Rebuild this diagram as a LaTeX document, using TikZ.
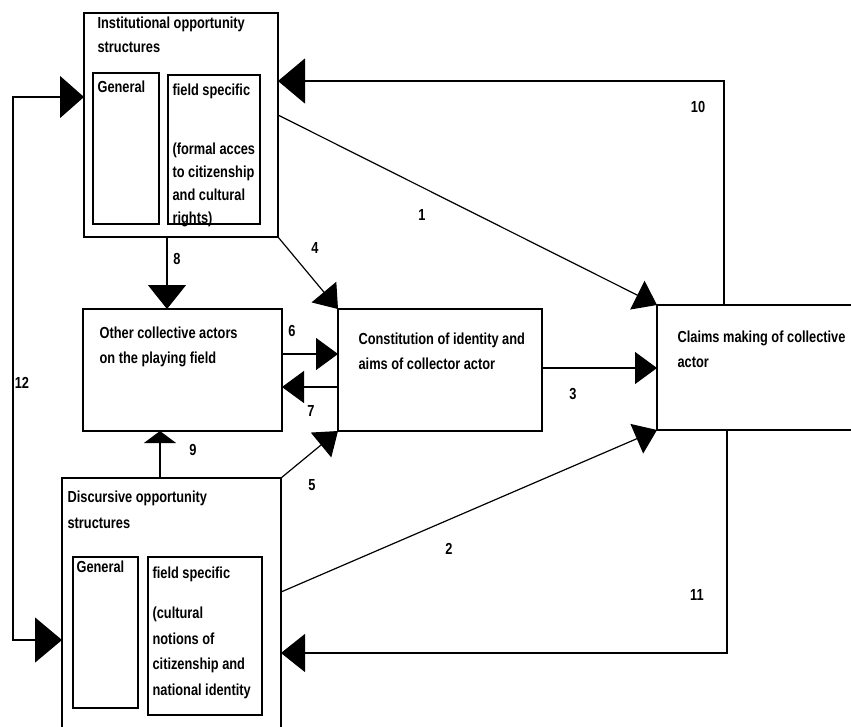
\documentclass[tikz,border=0pt]{standalone}
\usepackage{fontspec}
\setmainfont{Liberation Sans}[FakeStretch=0.8]
\usetikzlibrary{arrows.meta}
\begin{document}
\begin{tikzpicture}[x=1pt,y=-1pt, line width=1.2pt,
  box/.style={draw, line width=1.3pt, inner sep=0pt, outer sep=0pt, anchor=north west},
  txt/.style={inner sep=0pt, anchor=north west, align=left, font=\fontsize{16}{24}\selectfont\bfseries},
  num/.style={inner sep=0pt, font=\fontsize{16}{16}\selectfont\bfseries},
  tipL/.style={-{Triangle[length=27pt,width=45pt]}},
  tipLL/.style={{Triangle[length=27pt,width=45pt]}-{Triangle[length=24pt,width=42pt]}},
  tipE/.style={-{Triangle[length=24pt,width=38pt]}},
  tipM/.style={-{Triangle[length=22pt,width=32pt]}},
  tipS/.style={-{Triangle[length=12pt,width=32pt]}}
]
\clip (0,0) rectangle (851,726);
\fill[white] (0,0) rectangle (851,726);

% boxes
\node[box, minimum width=194pt, minimum height=224pt] (ios) at (84,13) {};
\node[box, minimum width=66pt, minimum height=151pt] (iosG) at (93,73) {};
\node[box, minimum width=92pt, minimum height=149pt] (iosF) at (168,75) {};
\node[box, minimum width=199pt, minimum height=122pt] (oca) at (83,309) {};
\node[box, minimum width=204pt, minimum height=122pt] (con) at (338,309) {};
\node[box, minimum width=220pt, minimum height=125pt] (claims) at (657,305) {};
\node[box, minimum width=219pt, minimum height=270pt] (dos) at (62,478) {};
\node[box, minimum width=65pt, minimum height=151pt] (dosG) at (73,557) {};
\node[box, minimum width=114pt, minimum height=158pt] (dosF) at (148,557) {};

% texts
\node[txt] (tIos) at (97,16) {Institutional opportunity\\structures};
\node[txt] (tIosG) at (97,80) {General};
\node[txt, font=\fontsize{16}{23}\selectfont\bfseries] (tIosF) at (172,83)
  {field specific\\[36pt](formal acces\\to citizenship\\and cultural\\rights)};
\node[txt, font=\fontsize{16}{25}\selectfont\bfseries] (tOca) at (99,326) {Other collective actors\\on the playing field};
\node[txt, font=\fontsize{16}{25}\selectfont\bfseries] (tCon) at (358,332) {Constitution of identity and\\aims of collector actor};
\node[txt, font=\fontsize{16}{25}\selectfont\bfseries] (tCla) at (677,330) {Claims making of collective\\actor};
\node[txt, font=\fontsize{16}{26}\selectfont\bfseries] (tDos) at (67,490) {Discursive opportunity\\structures};
\node[txt] (tDosG) at (76,560) {General};
\node[txt, font=\fontsize{16}{25.5}\selectfont\bfseries] (tDosF) at (152,566)
  {field specific\\[15pt](cultural\\notions of\\citizenship and\\national identity};

% bend coordinates
\coordinate (b12) at (13,383);
\coordinate (b10) at (724,81);
\coordinate (b11) at (727,653);

% connectors
\draw[tipLL] (dos.west |- 0,640) -| (b12) |- (ios.west |- 0,97);
\draw[tipL] (claims.north -| b10) |- (ios.east |- b10);
\draw[tipE] (claims.south -| b11) |- (dos.east |- b11);
\draw[tipM] (ios.east |- 0,115) -- (claims.north west);
\draw[tipM] (dos.east |- 0,592) -- (claims.south west);
\draw[tipM] (con.east |- 0,368) -- (claims.west |- 0,368);
\draw[tipM] (ios.south east) -- (con.north west);
\draw[tipM] (dos.north east) -- (con.south west);
\draw[tipM] (oca.east |- 0,354) -- (con.west |- 0,354);
\draw[tipM] (con.west |- 0,387) -- (oca.east |- 0,387);
\draw[tipE] (ios.south -| 167,0) -- (oca.north -| 167,0);
\draw[tipS] (dos.north -| 160,0) -- (oca.south -| 160,0);

% labels
\node[num] (n1) at (422,215) {1};
\node[num] (n2) at (449,549) {2};
\node[num] (n3) at (573,394) {3};
\node[num] (n4) at (315,248) {4};
\node[num] (n5) at (312,485) {5};
\node[num] (n6) at (292,331) {6};
\node[num] (n7) at (311,411) {7};
\node[num] (n8) at (177,259) {8};
\node[num] (n9) at (193,450) {9};
\node[num] (n10) at (698,107) {10};
\node[num] (n11) at (697,595) {11};
\node[num] (n12) at (22,383) {12};
\end{tikzpicture}
\end{document}
